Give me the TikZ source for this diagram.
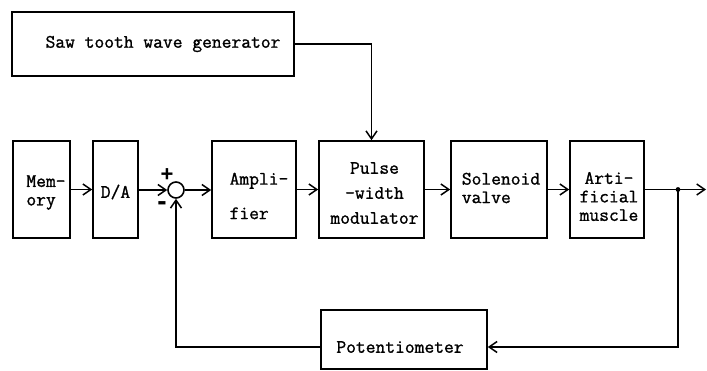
\documentclass[tikz,border=0pt]{standalone}
\usepackage{fontspec}
\setmainfont{Liberation Serif}
\newfontfamily\tw{Latin Modern Mono}[FakeBold=1.2]
\newfontfamily\sgn{Liberation Sans}
\usetikzlibrary{arrows.meta}
\begin{document}
\begin{tikzpicture}[x=1pt,y=-1pt,
  line width=1.6pt,
  box/.style={draw, rectangle, inner sep=0pt},
  lbl/.style={font=\tw\fontsize{19}{18.5}\selectfont, inner sep=0pt},
  arr/.style={-{Straight Barb[length=8pt,width=11pt,line width=1.5pt]}},
  sgnstyle/.style={font=\sgn\bfseries\fontsize{22}{24}\selectfont, inner sep=0pt}]
\useasboundingbox (0,0) rectangle (707,370);

\node[box, minimum width=282, minimum height=64,
  label={[lbl, xshift=10pt]center:Saw tooth wave generator}] (saw) at (153,44) {};

\node[box, minimum width=57, minimum height=97,
  label={[lbl, align=left, xshift=4.5pt, yshift=-3pt]center:Mem-\\ory}] (mem) at (41.5,189.5) {};
\node[box, minimum width=45, minimum height=97,
  label={[lbl, yshift=-2.5pt]center:D/A}] (da) at (115.5,189.5) {};
\node[draw, circle, minimum size=16, inner sep=0pt] (sum) at (176,190) {};
\node[sgnstyle] (plus) at (167,175) {+};
\node[sgnstyle, font=\sgn\bfseries\fontsize{28}{28}\selectfont] (minus) at (162,206) {-};
\node[box, minimum width=84, minimum height=97,
  label={[lbl, align=left, xshift=5pt, yshift=-6.5pt]center:Ampli-\\[16pt]fier}] (amp) at (254,189.5) {};
\node[box, minimum width=105, minimum height=97,
  label={[lbl, align=center, xshift=3pt, yshift=-3.5pt]center:Pulse\\[6.5pt]-width\\[6.5pt]modulator}] (pwm) at (371.5,189.5) {};
\node[box, minimum width=96, minimum height=97,
  label={[lbl, align=left, xshift=2pt, yshift=1.5pt]center:Solenoid\\valve}] (sol) at (499,189.5) {};
\node[box, minimum width=74, minimum height=97,
  label={[lbl, align=center, xshift=2pt, yshift=-7pt]center:Arti-\\ficial\\muscle}] (art) at (607,189.5) {};
\node[box, minimum width=166, minimum height=59,
  label={[lbl, name=pottxt, xshift=-4pt, yshift=-7.5pt]center:Potentiometer}] (pot) at (404,339.5) {};

\coordinate (junc) at (678,189.5);
\coordinate (out) at (706,189.5);

\draw[arr] (saw.east) -| (pwm.north);
\draw[arr] (mem.east) -- (da.west);
\draw[arr] (da.east |- sum) -- (sum.west);
\draw[arr] (sum.east) -- (amp.west |- sum);
\draw[arr] (amp.east) -- (pwm.west);
\draw[arr] (pwm.east) -- (sol.west);
\draw[arr] (sol.east) -- (art.west);
\draw (art.east) -- (junc);
\draw[arr] (junc) -- (out);
\fill (junc) circle (2.4pt);
\draw[arr] (junc) |- (pot.east |- pottxt);
\draw[arr] (pot.west |- pottxt) -| (sum.south);
\end{tikzpicture}
\end{document}
